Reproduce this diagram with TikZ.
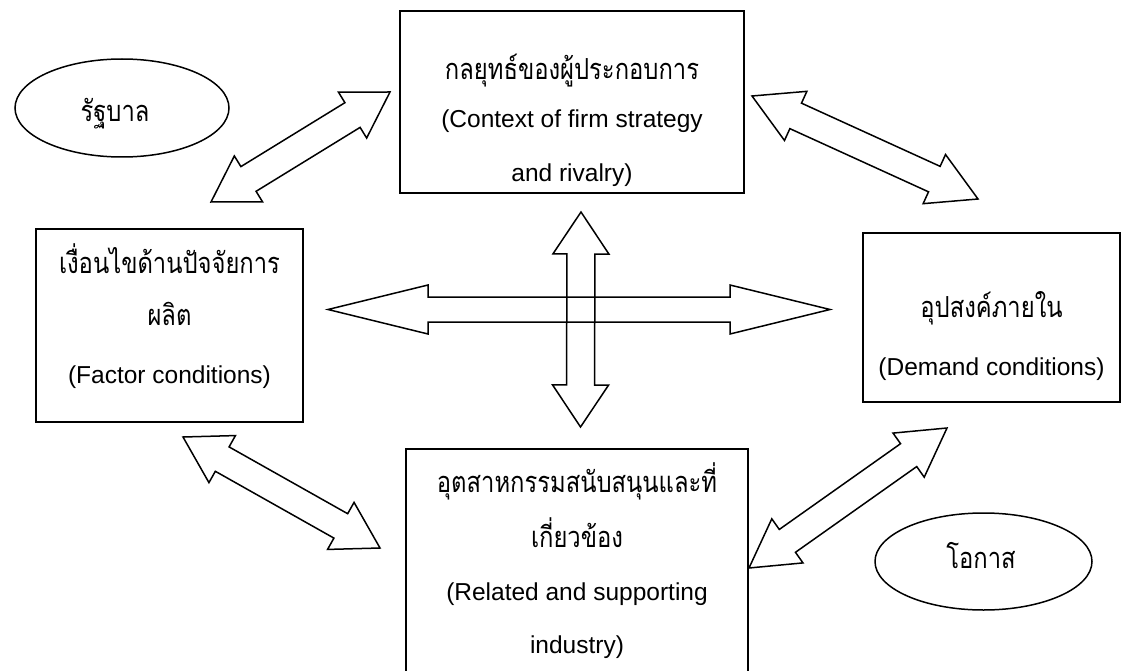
\documentclass[tikz,border=0pt]{standalone}
\usepackage{fontspec}
\setmainfont{Liberation Sans}
\newfontfamily\thaifont[Script=Thai, FakeStretch=0.82]{Loma}
\usetikzlibrary{calc,shapes.geometric}
\tikzset{
  box/.style={draw, line width=1.6pt, inner sep=0pt},
  oval/.style={draw, ellipse, line width=1.5pt, inner sep=0pt},
  en/.style={font=\fontsize{24.5}{28}\selectfont, anchor=base, inner sep=0pt},
  th/.style={font=\thaifont\fontsize{29}{32}\selectfont, anchor=base, inner sep=0pt},
  blk/.style={draw, line width=1.5pt, line join=miter},
}
\newcommand\blockarr[5]{%
  \path coordinate (h1) at ($(#1)!#5!(#2)$) coordinate (h2) at ($(#2)!#5!(#1)$);
  \draw[blk] (#1) -- ($(h1)!#4!90:(#2)$) -- ($(h1)!#3!90:(#2)$)
    -- ($(h2)!#3!-90:(#1)$) -- ($(h2)!#4!-90:(#1)$) -- (#2)
    -- ($(h2)!#4!90:(#1)$) -- ($(h2)!#3!90:(#1)$)
    -- ($(h1)!#3!-90:(#2)$) -- ($(h1)!#4!-90:(#2)$) -- cycle;}
\begin{document}
\begin{tikzpicture}[x=1pt,y=-1pt]
\useasboundingbox (0,0) rectangle (1129,671);
\fill[white] (0,0) rectangle (1129,671);
\clip (0,0) rectangle (1129,671);
% boxes
\node[box, minimum width=344pt, minimum height=182pt] (top) at (572,102) {};
\node[box, minimum width=267pt, minimum height=193pt] (left) at (169.5,325.5) {};
\node[box, minimum width=257pt, minimum height=169pt] (right) at (991.5,317.5) {};
\node[box, minimum width=342pt, minimum height=260pt] (bottom) at (577,579) {};
% ellipses
\node[oval, minimum width=214pt, minimum height=98pt] (gov) at (122,108) {};
\node[oval, minimum width=217pt, minimum height=97pt] (chance) at (983.5,561.5) {};
% texts
\node[th] (t1) at (572,80) {กลยุทธ์ของผู้ประกอบการ};
\node[en] (t2) at (572,128) {(Context of firm strategy};
\node[en] (t3) at (572,182) {and rivalry)};
\node[th] (l1) at (169.5,273) {เงื่อนไขด้านปัจจัยการ};
\node[th] (l2) at (169.5,325) {ผลิต};
\node[en] (l3) at (169.5,383) {(Factor conditions)};
\node[th] (r1) at (991.5,317) {อุปสงค์ภายใน};
\node[en] (r2) at (991.5,375) {(Demand conditions)};
\node[th] (b1) at (577,492) {อุตสาหกรรมสนับสนุนและที่};
\node[th] (b2) at (577,547) {เกี่ยวข้อง};
\node[en] (b3) at (577,600) {(Related and supporting};
\node[en] (b4) at (577,653) {industry)};
\node[th] (g1) at (115,122) {รัฐบาล};
\node[th] (c1) at (981,568) {โอกาส};
% arrow tips
\coordinate (hL) at (328,309.5);
\coordinate (hR) at (830,309.5);
\coordinate (vT) at (581,212);
\coordinate (vB) at (580.5,427);
\coordinate (tlA) at (211,202);
\coordinate (tlB) at (390,92);
\coordinate (trA) at (752,96);
\coordinate (trB) at (978,199);
\coordinate (blA) at (183,437);
\coordinate (blB) at (380,548);
\coordinate (brA) at (947,428);
\coordinate (brB) at (749,568);
% block arrows
\blockarr{hL}{hR}{12.5pt}{24.5pt}{100pt}
\blockarr{vT}{vB}{14pt}{28pt}{42pt}
\blockarr{tlA}{tlB}{14.5pt}{27pt}{44pt}
\blockarr{trA}{trB}{14pt}{27pt}{48pt}
\blockarr{blA}{blB}{14pt}{27pt}{45pt}
\blockarr{brA}{brB}{14pt}{27pt}{47pt}
\end{tikzpicture}
\end{document}
